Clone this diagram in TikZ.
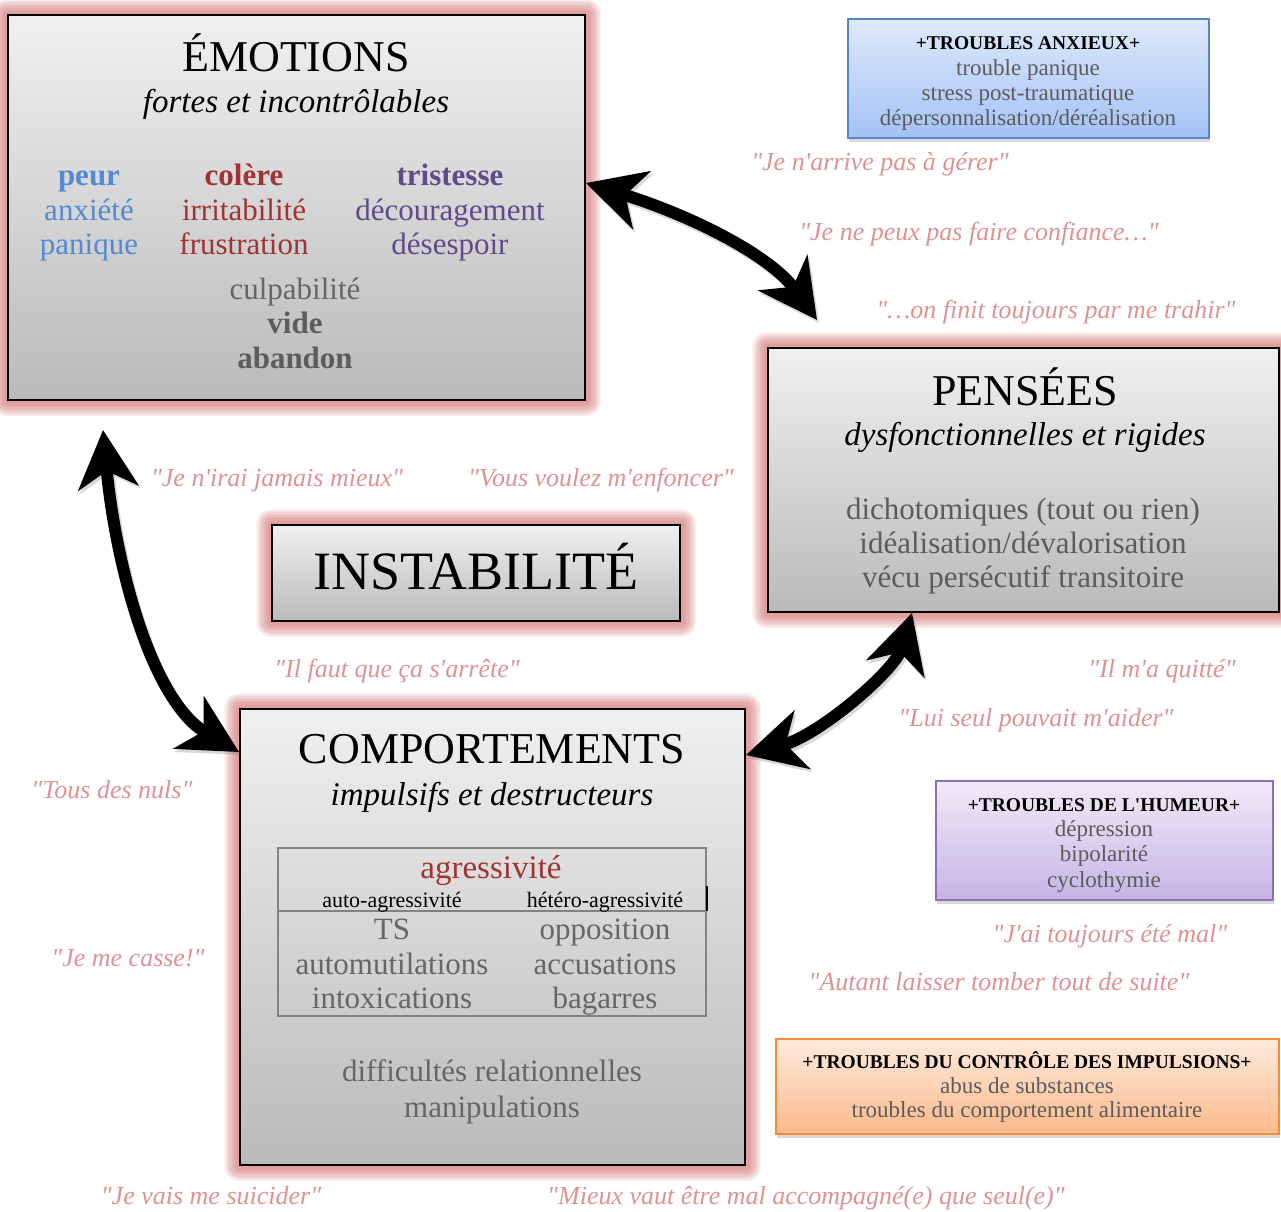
\documentclass[tikz,border=0pt]{standalone}
\usepackage{fontspec}
\setmainfont{Liberation Serif}[Ligatures=TeXOff]
\usetikzlibrary{arrows.meta,shadows,backgrounds}
\definecolor{glowc}{RGB}{212,105,105}
\definecolor{quotec}{RGB}{222,146,146}
\definecolor{boxtop}{RGB}{240,240,240}
\definecolor{boxbot}{RGB}{186,186,186}
\definecolor{bodyg}{RGB}{92,92,92}
\definecolor{lightg}{RGB}{102,102,102}
\definecolor{peurc}{RGB}{85,137,212}
\definecolor{colerec}{RGB}{160,52,52}
\definecolor{tristc}{RGB}{95,75,138}
\definecolor{tabc}{RGB}{130,130,130}
\definecolor{bluetop}{RGB}{223,233,251}
\definecolor{bluebot}{RGB}{163,194,245}
\definecolor{blueb}{RGB}{88,132,200}
\definecolor{purtop}{RGB}{240,235,248}
\definecolor{purbot}{RGB}{198,180,229}
\definecolor{purb}{RGB}{138,112,182}
\definecolor{ortop}{RGB}{253,234,220}
\definecolor{orbot}{RGB}{251,186,140}
\definecolor{orb}{RGB}{242,140,60}
\begin{document}
\begin{tikzpicture}[x=1pt,y=-1pt,
  bigbox/.style={draw=black, line width=2pt, top color=boxtop, bottom color=boxbot, inner sep=0pt},
  smallbox/.style={line width=2pt, inner sep=0pt, drop shadow={shadow xshift=1pt, shadow yshift=-4pt, opacity=0.3}},
  ttl/.style={font=\fontsize{44}{48}\selectfont, anchor=base, inner sep=0pt},
  sub/.style={font=\fontsize{33}{36}\selectfont\itshape, anchor=base, inner sep=0pt},
  bodyt/.style={font=\fontsize{31}{34}\selectfont, text=bodyg, anchor=base, inner sep=0pt},
  quote/.style={font=\fontsize{26}{30}\selectfont\itshape, text=quotec, anchor=base, inner sep=0pt},
  tb/.style={font=\fontsize{19.5}{22}\selectfont\bfseries, anchor=base, inner sep=0pt},
  tl/.style={font=\fontsize{23}{25}\selectfont, text=bodyg, anchor=base, inner sep=0pt},
  bigarrow/.style={line width=12pt, {Stealth[length=58pt,width=60pt,inset=17pt]}-{Stealth[length=58pt,width=60pt,inset=17pt]}},
  arrowshadow/.style={bigarrow, draw=black!60, opacity=0.25, transform canvas={shift={(2pt,-3pt)}}},
]
\useasboundingbox (0,0) rectangle (1281,1211);

% ---- main boxes ----
\node[bigbox, minimum width=577pt, minimum height=385pt] (emo) at (296.5,207.5) {};
\node[bigbox, minimum width=511pt, minimum height=264pt] (pen) at (1023.5,480) {};
\node[bigbox, minimum width=408pt, minimum height=96pt] (inst) at (476,573) {};
\node[bigbox, minimum width=505pt, minimum height=456pt] (comp) at (492.5,937) {};

% ---- trouble boxes ----
\node[smallbox, draw=blueb, top color=bluetop, bottom color=bluebot, minimum width=361pt, minimum height=119pt] (anx) at (1028.5,78.5) {};
\node[smallbox, draw=purb, top color=purtop, bottom color=purbot, minimum width=337pt, minimum height=119pt] (hum) at (1104.5,840.5) {};
\node[smallbox, draw=orb, top color=ortop, bottom color=orbot, minimum width=503pt, minimum height=95pt] (ctl) at (1027.5,1086) {};

% ---- glow ----
\begin{pgfonlayer}{background}
  \fill[white] (0,0) rectangle (1281,1211);
  \foreach \b in {emo,pen,inst,comp}{
    \foreach \w in {30,27,24,21,18,15,12,9,6}{
      \draw[glowc, line width=\w pt, draw opacity=0.1, line join=round] (\b.south west) rectangle (\b.north east);
    }}
\end{pgfonlayer}

% ---- ÉMOTIONS ----
\node[ttl] (emoT) at (296,71) {ÉMOTIONS};
\node[sub] (emoS) at (296,112) {fortes et incontrôlables};
\node[bodyt, text=peurc, font=\fontsize{31}{34}\selectfont\bfseries] (peur) at (89,185) {peur};
\node[bodyt, text=peurc] (anxi) at (89,220) {anxiété};
\node[bodyt, text=peurc] (pani) at (89,254) {panique};
\node[bodyt, text=colerec, font=\fontsize{31}{34}\selectfont\bfseries] (cole) at (244,185) {colère};
\node[bodyt, text=colerec] (irri) at (244,220) {irritabilité};
\node[bodyt, text=colerec] (frus) at (244,254) {frustration};
\node[bodyt, text=tristc, font=\fontsize{31}{34}\selectfont\bfseries] (tris) at (450,185) {tristesse};
\node[bodyt, text=tristc] (deco) at (450,220) {découragement};
\node[bodyt, text=tristc] (dese) at (450,254) {désespoir};
\node[bodyt, text=lightg] (culp) at (295,299) {culpabilité};
\node[bodyt, text=bodyg, font=\fontsize{31}{34}\selectfont\bfseries] (vide) at (295,333) {vide};
\node[bodyt, text=bodyg, font=\fontsize{31}{34}\selectfont\bfseries] (aban) at (295,368) {abandon};

% ---- PENSÉES ----
\node[ttl] (penT) at (1025,405) {PENSÉES};
\node[sub] (penS) at (1025,445) {dysfonctionnelles et rigides};
\node[bodyt] (dich) at (1023,519) {dichotomiques (tout ou rien)};
\node[bodyt] (idea) at (1023,553) {idéalisation/dévalorisation};
\node[bodyt] (vecu) at (1023,587) {vécu persécutif transitoire};

% ---- INSTABILITÉ ----
\node[ttl, font=\fontsize{54}{58}\selectfont] (instT) at (476,589) {INSTABILITÉ};

% ---- COMPORTEMENTS ----
\node[ttl] (compT) at (492,763) {COMPORTEMENTS};
\node[sub] (compS) at (492,805) {impulsifs et destructeurs};
\node[draw=tabc, line width=1.5pt, minimum width=428pt, minimum height=168pt, inner sep=0pt] (tab) at (492,932) {};
\draw[tabc, line width=1.5pt] (tab.west |- 0,911) -- (tab.east |- 0,911);
\draw[black, line width=1.5pt] (tab.east |- 0,886) -- (tab.east |- 0,911);
\node[bodyt, text=colerec, font=\fontsize{33}{36}\selectfont] (agr) at (491,878) {agressivité};
\node[anchor=base, inner sep=0pt, font=\fontsize{22}{24}\selectfont] (auto) at (392,907) {auto-agressivité};
\node[anchor=base, inner sep=0pt, font=\fontsize{22}{24}\selectfont] (hete) at (605,907) {hétéro-agressivité};
\node[bodyt, text=lightg] (ts) at (392,939) {TS};
\node[bodyt, text=lightg] (autm) at (392,974) {automutilations};
\node[bodyt, text=lightg] (intx) at (392,1008) {intoxications};
\node[bodyt, text=lightg] (oppo) at (605,939) {opposition};
\node[bodyt, text=lightg] (accu) at (605,974) {accusations};
\node[bodyt, text=lightg] (baga) at (605,1008) {bagarres};
\node[bodyt, text=lightg] (diff) at (492,1081) {difficultés relationnelles};
\node[bodyt, text=lightg] (mani) at (492,1117) {manipulations};

% ---- trouble box texts ----
\node[tb] (anx1) at (1028,49) {+TROUBLES ANXIEUX+};
\node[tl] (anx2) at (1028,75) {trouble panique};
\node[tl] (anx3) at (1028,100) {stress post-traumatique};
\node[tl] (anx4) at (1028,125) {dépersonnalisation/déréalisation};

\node[tb] (hum1) at (1104,811) {+TROUBLES DE L'HUMEUR+};
\node[tl] (hum2) at (1104,836) {dépression};
\node[tl] (hum3) at (1104,861) {bipolarité};
\node[tl] (hum4) at (1104,887) {cyclothymie};

\node[tb] (ctl1) at (1027,1068) {+TROUBLES DU CONTRÔLE DES IMPULSIONS+};
\node[tl] (ctl2) at (1027,1093) {abus de substances};
\node[tl] (ctl3) at (1027,1117) {troubles du comportement alimentaire};

% ---- quotes ----
\node[quote] (q1) at (880,170) {"Je n'arrive pas à gérer"};
\node[quote] (q2) at (979,240) {"Je ne peux pas faire confiance…"};
\node[quote] (q3) at (1056,318) {"…on finit toujours par me trahir"};
\node[quote] (q4) at (277,486) {"Je n'irai jamais mieux"};
\node[quote] (q5) at (601,486) {"Vous voulez m'enfoncer"};
\node[quote] (q6) at (397,677) {"Il faut que ça s'arrête"};
\node[quote] (q7) at (1162,677) {"Il m'a quitté"};
\node[quote] (q8) at (1036,726) {"Lui seul pouvait m'aider"};
\node[quote] (q9) at (112,798) {"Tous des nuls"};
\node[quote] (q10) at (128,966) {"Je me casse!"};
\node[quote] (q11) at (1110,942) {"J'ai toujours été mal"};
\node[quote] (q12) at (999,990) {"Autant laisser tomber tout de suite"};
\node[quote] (q13) at (211,1204) {"Je vais me suicider"};
\node[quote] (q14) at (806,1204) {"Mieux vaut être mal accompagné(e) que seul(e)"};

% ---- arrows ----
\coordinate (a1s) at (emo.east |- 0,183);
\coordinate (a1e) at (817,320);
\coordinate (a2s) at (103,430);
\coordinate (a2e) at (comp.west |- 0,752);
\coordinate (a3s) at (pen.south -| 912,0);
\coordinate (a3e) at (comp.east |- 0,755);

\draw[arrowshadow] (a1s) .. controls (690,215) and (770,255) .. (a1e);
\draw[arrowshadow] (a2s) .. controls (115,560) and (150,700) .. (a2e);
\draw[arrowshadow] (a3s) .. controls (895,670) and (820,735) .. (a3e);
\draw[bigarrow] (a1s) .. controls (690,215) and (770,255) .. (a1e);
\draw[bigarrow] (a2s) .. controls (115,560) and (150,700) .. (a2e);
\draw[bigarrow] (a3s) .. controls (895,670) and (820,735) .. (a3e);
\end{tikzpicture}
\end{document}
